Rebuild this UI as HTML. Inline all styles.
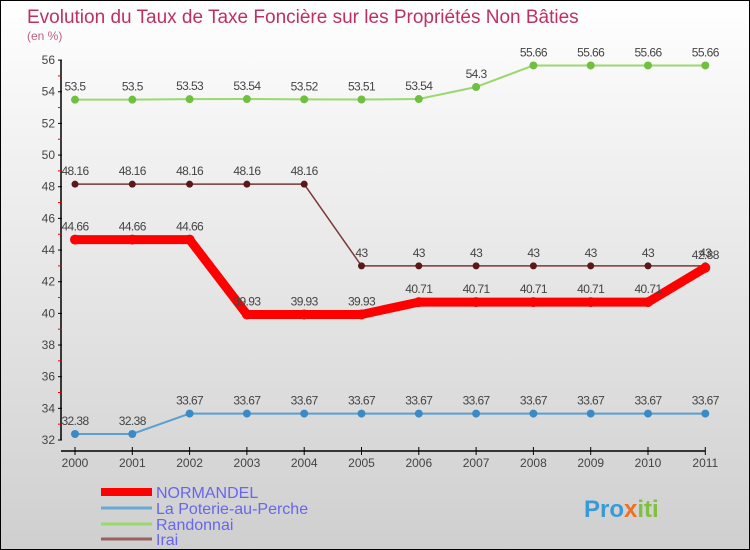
<!DOCTYPE html>
<html><head><meta charset="utf-8"><style>
body{margin:0}
#c{width:748px;height:548px;border:1px solid #000;background:linear-gradient(#fff,#f0f0f0 30%,#cfcfcf);position:relative;overflow:hidden;font-family:"Liberation Sans",sans-serif}
</style></head><body>
<div id="c">
<svg id="s" width="748" height="548"></svg>
</div>
<script>
const years=[2000,2001,2002,2003,2004,2005,2006,2007,2008,2009,2010,2011];
const yTicks=[32,34,36,38,40,42,44,46,48,50,52,54,56];
const seriesNames=["NORMANDEL","La Poterie-au-Perche","Randonnai","Irai"];
const normandel=[44.66,44.66,44.66,39.93,39.93,39.93,40.71,40.71,40.71,40.71,40.71,42.88];
const poterie=[32.38,32.38,33.67,33.67,33.67,33.67,33.67,33.67,33.67,33.67,33.67,33.67];
const randonnai=[53.5,53.5,53.53,53.54,53.52,53.51,53.54,54.3,55.66,55.66,55.66,55.66];
const irai=[48.16,48.16,48.16,48.16,48.16,43,43,43,43,43,43,43];
const NS="http://www.w3.org/2000/svg",svg=document.getElementById('s');
const X=i=>74+i*57.3, Y=v=>439-(v-32)*15.83;
function el(t,a,txt){const e=document.createElementNS(NS,t);for(const k in a)e.setAttribute(k,a[k]);if(txt!==undefined)e.textContent=txt;svg.appendChild(e);return e;}
let t=el('text',{x:26,y:22,'font-size':19,fill:'#c0305f'},'Evolution du Taux de Taxe Foncière sur les Propriétés Non Bâties');

t=el('text',{x:26,y:39,'font-size':12,fill:'#c0607f'},'(en %)');

let a=el('line',{x1:60,y1:Y(56),x2:60,y2:Y(32),stroke:'#000','stroke-width':1.5});

yTicks.forEach(v=>{el('line',{x1:57,x2:61,y1:Y(v),y2:Y(v),stroke:'#000'});
 if(v<56)el('line',{x1:57,x2:61,y1:Y(v+1),y2:Y(v+1),stroke:'#e00'});
 const l=el('text',{x:54,y:Y(v)+4,'font-size':12,fill:'#444','text-anchor':'end'},v);
 });
a=el('line',{x1:60,x2:X(11),y1:450,y2:450,stroke:'#000','stroke-width':1.5});

years.forEach((y,i)=>{el('line',{x1:X(i),x2:X(i),y1:446,y2:454,stroke:'#000'});
 const l=el('text',{x:X(i),y:466,'font-size':12,fill:'#444','text-anchor':'middle'},y);
 });
function series(vals,col,w,r,name,dot){
 const p=el('polyline',{points:vals.map((v,i)=>X(i)+','+Y(v)).join(' '),fill:'none',stroke:col,'stroke-width':w,'stroke-linejoin':'round'});
 
 vals.forEach((v,i)=>{const c=el('circle',{cx:X(i),cy:Y(v),r:r,fill:dot});
  
  const l=el('text',{x:X(i),y:Y(v)-9,'font-size':12,fill:'#444','text-anchor':'middle','letter-spacing':'-0.6'},String(v));
  });
}
series(poterie,'#5a9fd0',2,4,'poterie','#3a8ac8');
series(randonnai,'#9ad870',2,4,'randonnai','#70c040');
series(irai,'#7a3838',1.5,3.5,'irai','#5a1818');
series(normandel,'#f00',9,5,'normandel','#f00');
const lc=['#f00','#6aaad0','#9ad870','#9a6060'],lw=[8,3,3,3],ly=[491,507,523,538];
seriesNames.forEach((n,i)=>{const l=el('line',{x1:100,x2:151,y1:ly[i],y2:ly[i],stroke:lc[i],'stroke-width':lw[i]});
 
 const tx=el('text',{x:155,y:ly[i]+6,'font-size':16,fill:'#6666ee'},n);
 });
const lg=el('text',{x:583,y:516,'font-size':24,'font-weight':'bold'});

[['Pro','#3a9ad8'],['x','#f07020'],['iti','#80c040']].forEach(([s,c])=>{const ts=document.createElementNS(NS,'tspan');ts.setAttribute('fill',c);ts.textContent=s;lg.appendChild(ts);});
</script>
</body></html>
